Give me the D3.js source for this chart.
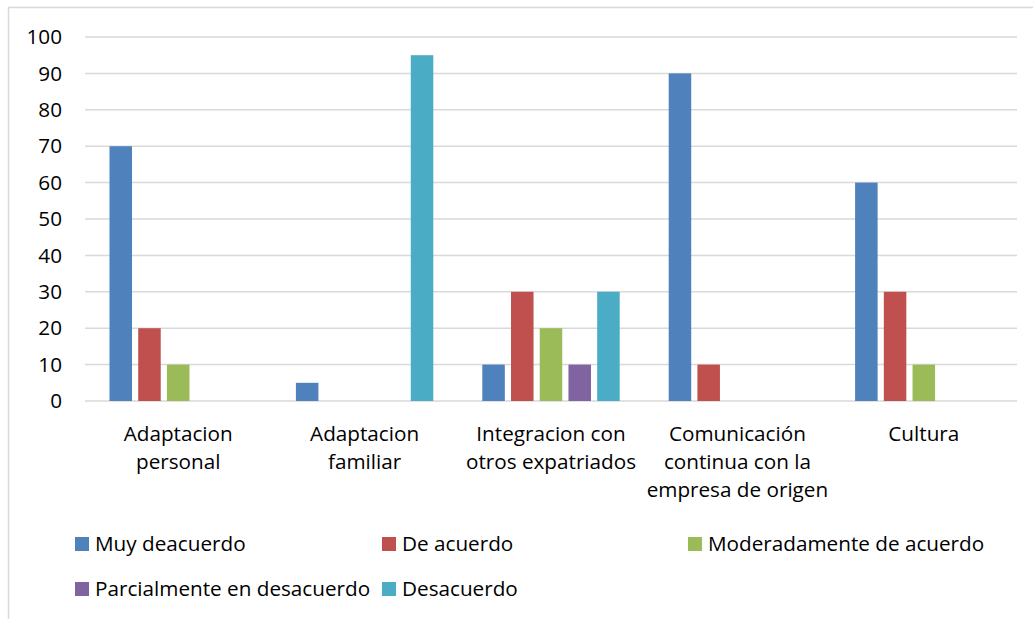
<!DOCTYPE html>
<html>
<head>
<meta charset="utf-8">
<script src="https://cdn.jsdelivr.net/npm/d3@7"></script>
<style>
  body { margin: 0; background: #fff; }
  text { font-family: "Open Sans", sans-serif; fill: #000; }
</style>
</head>
<body>
<div class="chart"></div>
<script>
// data
const categories = ["Adaptacion personal", "Adaptacion familiar", "Integracion con otros expatriados",
  "Comunicación continua con la empresa de origen", "Cultura"];
const categoryLines = [
  ["Adaptacion", "personal"],
  ["Adaptacion", "familiar"],
  ["Integracion con", "otros expatriados"],
  ["Comunicación", "continua con la", "empresa de origen"],
  ["Cultura"]
];
const seriesNames = ["Muy deacuerdo", "De acuerdo", "Moderadamente de acuerdo",
  "Parcialmente en desacuerdo", "Desacuerdo"];
const seriesColors = ["#4F81BD", "#C0504D", "#9BBB59", "#8064A2", "#4BACC6"];
const muyDeacuerdo = [70, 5, 10, 90, 60];
const deAcuerdo = [20, 0, 30, 10, 30];
const moderadamente = [10, 0, 20, 0, 10];
const parcialmente = [0, 0, 10, 0, 0];
const desacuerdo = [0, 95, 30, 0, 0];
const yTicks = [0, 10, 20, 30, 40, 50, 60, 70, 80, 90, 100];

const seriesValues = [muyDeacuerdo, deAcuerdo, moderadamente, parcialmente, desacuerdo];

const width = 1033, height = 619;
const margin = { top: 37, right: 16, bottom: 218, left: 85 };
const fontSize = 20.7;

const svg = d3.select(".chart")
  .append("svg")
  .attr("width", width)
  .attr("height", height);

svg.append("rect")
  .attr("width", width).attr("height", height)
  .attr("fill", "#fff");

// chart border (only top and left edges show in the crop)
svg.append("rect")
  .attr("x", 8.5).attr("y", 7.5)
  .attr("width", 1200).attr("height", 800)
  .attr("fill", "none")
  .attr("stroke", "#d9d9d9")
  .attr("stroke-width", 1.5);

const x0 = d3.scaleBand()
  .domain(categories)
  .range([margin.left, width - margin.right])
  .padding(0);

const groupPad = 24.5;
const x1 = d3.scaleBand()
  .domain(seriesNames)
  .range([groupPad, x0.bandwidth() - groupPad])
  .paddingInner(0.216)
  .paddingOuter(0);

const y = d3.scaleLinear()
  .domain([0, 100])
  .range([height - margin.bottom, margin.top]);

// gridlines
svg.append("g")
  .selectAll("line")
  .data(yTicks)
  .join("line")
  .attr("x1", margin.left)
  .attr("x2", width - margin.right)
  .attr("y1", d => y(d))
  .attr("y2", d => y(d))
  .attr("stroke", "#d9d9d9")
  .attr("stroke-width", 1.5);

// y axis labels
svg.append("g")
  .attr("transform", `translate(${margin.left},0)`)
  .call(d3.axisLeft(y).tickValues(yTicks).tickSize(0).tickPadding(23))
  .call(g => g.select(".domain").remove())
  .call(g => g.selectAll("text")
    .attr("font-size", fontSize)
    .attr("font-family", "Open Sans, sans-serif")
    .attr("fill", "#000"));

// bars
const rows = categories.map((c, i) => ({
  cat: c,
  vals: seriesNames.map((s, j) => ({ name: s, value: seriesValues[j][i], color: seriesColors[j] }))
}));

svg.append("g")
  .selectAll("g")
  .data(rows)
  .join("g")
  .attr("transform", d => `translate(${x0(d.cat)},0)`)
  .selectAll("rect")
  .data(d => d.vals.filter(v => v.value > 0))
  .join("rect")
  .attr("x", d => x1(d.name))
  .attr("width", x1.bandwidth())
  .attr("y", d => y(d.value))
  .attr("height", d => y(0) - y(d.value))
  .attr("fill", d => d.color);

// category labels
const catG = svg.append("g")
  .selectAll("text")
  .data(categories)
  .join("text")
  .attr("x", d => x0(d) + x0.bandwidth() / 2)
  .attr("y", 441)
  .attr("text-anchor", "middle")
  .attr("font-size", fontSize);

catG.selectAll("tspan")
  .data((d, i) => categoryLines[i])
  .join("tspan")
  .attr("x", function () { return d3.select(this.parentNode).attr("x"); })
  .attr("dy", (d, i) => i === 0 ? 0 : 28)
  .text(d => d);

// legend
const legendCols = [75, 382, 688];
const legendRows = [551, 596];
const legend = svg.append("g")
  .selectAll("g")
  .data(seriesNames)
  .join("g")
  .attr("transform", (d, i) => `translate(${legendCols[i % 3]},${legendRows[Math.floor(i / 3)]})`);

legend.append("rect")
  .attr("x", 0).attr("y", -14)
  .attr("width", 14).attr("height", 14)
  .attr("fill", (d, i) => seriesColors[i]);

legend.append("text")
  .attr("x", 20)
  .attr("y", 0)
  .attr("font-size", fontSize)
  .text(d => d);
</script>
</body>
</html>
